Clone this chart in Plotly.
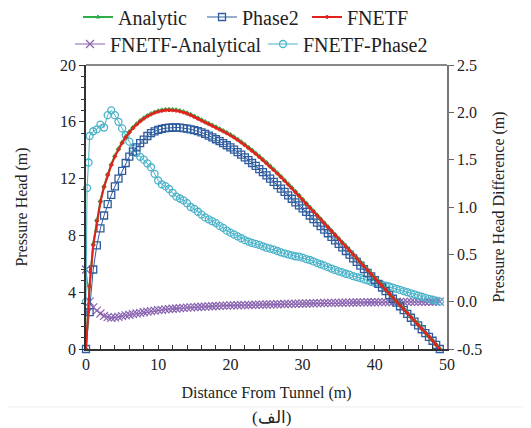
import plotly.graph_objects as go

# ---------------- data ----------------
X = [i / 2 for i in range(99)]  # sampling grid 0 .. 49 m, step 0.5

ANALYTIC = [
    0, 4.5, 7.4, 9.1, 10.45, 11.48, 12.32, 13.02, 13.62, 14.12,
    14.57, 14.97, 15.32, 15.62, 15.87, 16.1, 16.29, 16.45, 16.59, 16.7,
    16.78, 16.84, 16.88, 16.89, 16.88, 16.85, 16.8, 16.73, 16.64, 16.53,
    16.41, 16.28, 16.15, 16.02, 15.9, 15.78, 15.65, 15.52, 15.39, 15.26,
    15.12, 14.96, 14.79, 14.61, 14.42, 14.22, 14.02, 13.81, 13.59, 13.37,
    13.15, 12.91, 12.67, 12.42, 12.17, 11.91, 11.65, 11.39, 11.12, 10.85,
    10.57, 10.29, 10.01, 9.74, 9.46, 9.18, 8.9, 8.63, 8.35, 8.07,
    7.8, 7.52, 7.25, 6.97, 6.7, 6.42, 6.15, 5.87, 5.6, 5.32,
    5.05, 4.77, 4.5, 4.22, 3.95, 3.67, 3.4, 3.12, 2.85, 2.57,
    2.3, 2.02, 1.74, 1.47, 1.19, 0.91, 0.63, 0.32, 0.0,
]

FNETF = [
    0, 4.4, 7.3, 9.0, 10.35, 11.4, 12.25, 12.95, 13.55, 14.05,
    14.5, 14.9, 15.25, 15.55, 15.8, 16.03, 16.22, 16.38, 16.52, 16.63,
    16.71, 16.77, 16.81, 16.82, 16.81, 16.78, 16.73, 16.66, 16.57, 16.46,
    16.34, 16.21, 16.08, 15.95, 15.83, 15.71, 15.58, 15.45, 15.32, 15.19,
    15.05, 14.89, 14.72, 14.54, 14.35, 14.15, 13.95, 13.74, 13.52, 13.3,
    13.08, 12.84, 12.6, 12.35, 12.1, 11.84, 11.58, 11.32, 11.05, 10.78,
    10.5, 10.23, 9.95, 9.68, 9.4, 9.13, 8.85, 8.58, 8.3, 8.03,
    7.75, 7.48, 7.2, 6.93, 6.65, 6.38, 6.1, 5.83, 5.55, 5.28,
    5.0, 4.73, 4.45, 4.18, 3.9, 3.63, 3.35, 3.08, 2.8, 2.53,
    2.25, 1.98, 1.7, 1.43, 1.15, 0.88, 0.6, 0.3, 0.0,
]

PHASE2 = [
    0, 2.6, 5.6, 7.3, 8.5, 9.4, 10.2, 10.85, 11.45, 12.0,
    12.55, 13.1, 13.55, 13.9, 14.2, 14.5, 14.75, 15.0, 15.2, 15.33,
    15.43, 15.5, 15.55, 15.58, 15.6, 15.6, 15.59, 15.56, 15.52, 15.47,
    15.41, 15.34, 15.26, 15.15, 15.03, 14.9, 14.77, 14.64, 14.5, 14.35,
    14.2, 14.04, 13.87, 13.69, 13.5, 13.3, 13.1, 12.89, 12.67, 12.45,
    12.23, 12.0, 11.77, 11.54, 11.3, 11.06, 10.82, 10.58, 10.33, 10.11,
    9.9, 9.65, 9.4, 9.15, 8.9, 8.65, 8.4, 8.15, 7.9, 7.65,
    7.4, 7.15, 6.9, 6.64, 6.38, 6.13, 5.87, 5.62, 5.36, 5.11,
    4.85, 4.59, 4.33, 4.07, 3.8, 3.54, 3.27, 3.01, 2.74, 2.47,
    2.2, 1.93, 1.66, 1.39, 1.12, 0.85, 0.58, 0.29, 0.0,
]

FNETF_ANALYTICAL = [
    0.34, 0.0, -0.06, -0.095, -0.125, -0.15, -0.163, -0.17, -0.166, -0.16,
    -0.152, -0.145, -0.138, -0.131, -0.124, -0.118, -0.112, -0.106, -0.1, -0.095,
    -0.09, -0.086, -0.082, -0.078, -0.075, -0.072, -0.069, -0.066, -0.063, -0.06,
    -0.058, -0.056, -0.054, -0.052, -0.05, -0.048, -0.046, -0.044, -0.042, -0.041,
    -0.04, -0.039, -0.038, -0.037, -0.036, -0.035, -0.034, -0.033, -0.032, -0.031,
    -0.03, -0.029, -0.028, -0.027, -0.026, -0.025, -0.024, -0.023, -0.022, -0.021,
    -0.02, -0.019, -0.018, -0.017, -0.016, -0.015, -0.014, -0.013, -0.0125, -0.012,
    -0.012, -0.011, -0.0105, -0.01, -0.009, -0.0085, -0.008, -0.007, -0.0065, -0.006,
    -0.006, -0.0055, -0.005, -0.0045, -0.004, -0.0035, -0.003, -0.0028, -0.0025, -0.0022,
    -0.002, -0.0018, -0.0015, -0.0012, -0.001, -0.0008, -0.0005, -0.0002, 0.0,
]

X_PHASE2_DIFF = [0, 0.15, 0.35] + X[1:]
FNETF_PHASE2 = [
    0.0, 1.2, 1.47,
    1.75, 1.8, 1.82, 1.87, 1.84, 1.97, 2.02, 1.97, 1.9, 1.83,
    1.76, 1.69, 1.62, 1.57, 1.53, 1.5, 1.46, 1.42, 1.35, 1.28,
    1.24, 1.22, 1.19, 1.15, 1.11, 1.09, 1.07, 1.04, 1.0, 0.98,
    0.95, 0.92, 0.89, 0.87, 0.85, 0.83, 0.8, 0.78, 0.75, 0.73,
    0.71, 0.69, 0.67, 0.65, 0.635, 0.62, 0.61, 0.6, 0.585, 0.57,
    0.56, 0.55, 0.535, 0.52, 0.51, 0.5, 0.49, 0.48, 0.475, 0.465,
    0.45, 0.44, 0.425, 0.41, 0.395, 0.38, 0.365, 0.35, 0.335, 0.32,
    0.31, 0.295, 0.285, 0.27, 0.26, 0.25, 0.235, 0.225, 0.21, 0.2,
    0.19, 0.18, 0.17, 0.16, 0.148, 0.136, 0.124, 0.112, 0.1, 0.088,
    0.076, 0.064, 0.052, 0.04, 0.03, 0.02, 0.01, 0.0,
]

RIGHT_TICKS = [-0.5, 0.0, 0.5, 1.0, 1.5, 2.0, 2.5]
RIGHT_LABELS = ["-0.5", "0.0", "0.5", "1.0", "1.5", "2.0", "2.5"]
LEFT_TICKS = [0, 4, 8, 12, 16, 20]
X_TICKS = [0, 10, 20, 30, 40, 50]

# ---------------- styling ----------------
SERIF = "Liberation Serif"
C_GREEN = "#2fae4a"
C_BLUE = "#2e5c9e"
C_RED = "#e3211c"
C_PURPLE = "#8a64b0"
C_CYAN = "#4bb3c9"

# the page body has an 8 px margin, so the figure is offset by (8, 8)
OFF = 8

fig = go.Figure()

fig.add_trace(go.Scatter(
    x=X, y=FNETF_ANALYTICAL, name="FNETF-Analytical", mode="lines+markers",
    yaxis="y", legend="legend4", showlegend=True,
    line=dict(color=C_PURPLE, width=1),
    marker=dict(symbol="x-thin-open", size=8, line=dict(color=C_PURPLE, width=1.2), color=C_PURPLE),
    cliponaxis=False,
))
fig.add_trace(go.Scatter(
    x=X_PHASE2_DIFF, y=FNETF_PHASE2, name="FNETF-Phase2", mode="lines+markers",
    yaxis="y", legend="legend5", showlegend=True,
    line=dict(color=C_CYAN, width=1),
    marker=dict(symbol="circle-open", size=7, color=C_CYAN, line=dict(width=1.3)),
    cliponaxis=False,
))
fig.add_trace(go.Scatter(
    x=X, y=PHASE2, name="Phase2", mode="lines+markers",
    yaxis="y2", legend="legend2", showlegend=True,
    line=dict(color=C_BLUE, width=1),
    marker=dict(symbol="square-open", size=7, color=C_BLUE, line=dict(width=1.3)),
    cliponaxis=False,
))
fig.add_trace(go.Scatter(
    x=X, y=ANALYTIC, name="Analytic", mode="lines+markers",
    yaxis="y2", legend="legend", showlegend=True,
    line=dict(color=C_GREEN, width=2),
    marker=dict(symbol="triangle-up-open", size=4, color=C_GREEN, line=dict(width=1)),
    cliponaxis=False,
))
fig.add_trace(go.Scatter(
    x=X, y=FNETF, name="FNETF", mode="lines+markers",
    yaxis="y2", legend="legend3", showlegend=True,
    line=dict(color=C_RED, width=2),
    marker=dict(symbol="circle-open", size=3, color=C_RED, line=dict(width=1)),
    cliponaxis=False,
))

axis_font = dict(family=SERIF, size=16, color="#222")


def legend_at(text_left_px, center_y_px):
    # text starts 40 px after the legend's left edge
    return dict(
        orientation="h", xref="container", yref="container",
        x=(text_left_px - 40 - OFF) / 531, xanchor="left",
        y=1 - (center_y_px - OFF) / 428, yanchor="middle",
        font=dict(family=SERIF, size=20, color="#222"),
        bgcolor="rgba(0,0,0,0)", itemwidth=30, visible=True,
    )


fig.update_layout(
    width=531, height=428,
    showlegend=True,
    margin=dict(l=86 - OFF, r=84 + OFF, t=65 - OFF, b=79 + OFF, autoexpand=False),
    paper_bgcolor="white", plot_bgcolor="white",
    font=axis_font,
    xaxis=dict(
        range=[0, 50], tickvals=X_TICKS, ticks="inside", ticklen=4, tickwidth=1,
        tickcolor="#333", showline=True, linecolor="#333", linewidth=1.5,
        showgrid=False, zeroline=False, tickfont=axis_font,
        minor=dict(dtick=2, tick0=0, ticks="inside", ticklen=4, tickcolor="#333", showgrid=False),
        title=dict(text="Distance From Tunnel (m)", font=axis_font, standoff=15),
    ),
    yaxis=dict(
        range=[-0.5, 2.5], side="right", anchor="x",
        tickvals=RIGHT_TICKS, ticktext=RIGHT_LABELS,
        ticks="outside", ticklen=5, tickcolor="#666",
        showline=True, linecolor="#777", linewidth=1.5,
        showgrid=False, zeroline=False, tickfont=axis_font,
        title=dict(text="Pressure Head Difference (m)", font=axis_font, standoff=12),
    ),
    yaxis2=dict(
        range=[0, 20], side="left", overlaying="y", anchor="x",
        tickvals=LEFT_TICKS, ticks="outside", ticklen=5, tickcolor="#333",
        showline=True, linecolor="#333", linewidth=1.5,
        showgrid=False, zeroline=False, tickfont=axis_font,
        minor=dict(dtick=0.8, tick0=0, ticks="outside", ticklen=3, tickcolor="#333", showgrid=False),
        title=dict(text="Pressure Head (m)", font=axis_font, standoff=28),
    ),
    legend=legend_at(118, 17),
    legend2=legend_at(242, 17),
    legend3=legend_at(347, 17),
    legend4=legend_at(110, 44),
    legend5=legend_at(303, 44),
    shapes=[
        dict(type="line", xref="paper", yref="paper", x0=0, x1=1, y0=1, y1=1,
             line=dict(color="#888", width=2)),
        dict(type="line", xref="paper", yref="paper", x0=-0.238, x1=1.233,
             y0=-0.204, y1=-0.204, line=dict(color="#eeeeee", width=1)),
    ],
    annotations=[
        dict(text="(الف)", xref="paper", yref="paper", x=0.515, y=-0.24,
             xanchor="center", yanchor="middle", showarrow=False,
             font=dict(family=SERIF, size=17, color="#222")),
    ],
)

fig.write_html("out.html")
